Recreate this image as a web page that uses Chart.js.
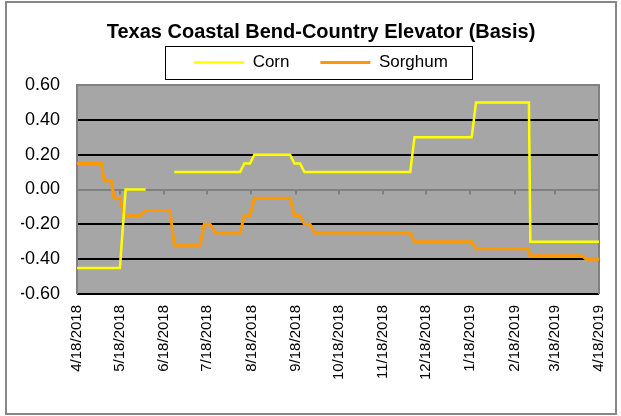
<!DOCTYPE html>
<html>
<head>
<meta charset="utf-8">
<script src="https://cdn.jsdelivr.net/npm/chart.js@4.4.0/dist/chart.umd.min.js"></script>
<style>
  html, body { margin: 0; padding: 0; background: #fff; }
  #wrap { width: 621px; height: 416px; }
</style>
</head>
<body>
<div id="wrap"><canvas id="basis-chart" width="621" height="416"></canvas></div>
<script>
// days counted from 4/18/2018
const tickDays = [0, 30, 61, 91, 122, 153, 183, 214, 244, 275, 306, 334, 365];
const tickLabels = ['4/18/2018', '5/18/2018', '6/18/2018', '7/18/2018', '8/18/2018', '9/18/2018',
  '10/18/2018', '11/18/2018', '12/18/2018', '1/18/2019', '2/18/2019', '3/18/2019', '4/18/2019'];

// corn basis (null = no quote)
const cornDays = [0, 30, 34, 48, 58, 68, 114, 117, 121, 124, 149, 152, 156, 159, 233, 236, 276, 279, 316, 317, 365];
const cornValues = [-0.45, -0.45, 0.00, 0.00, null, 0.10, 0.10, 0.15, 0.15, 0.20, 0.20, 0.15, 0.15, 0.10,
  0.10, 0.30, 0.30, 0.50, 0.50, -0.30, -0.30];

// sorghum basis
const sorghumDays = [0, 17, 19, 24, 26, 30, 33, 44, 48, 65, 68, 86, 89, 93, 97, 114, 117, 121, 124, 149,
  152, 156, 159, 163, 166, 233, 236, 276, 279, 315, 317, 353, 356, 365];
const sorghumValues = [0.15, 0.15, 0.05, 0.05, -0.05, -0.05, -0.15, -0.15, -0.12, -0.12, -0.32, -0.32,
  -0.20, -0.20, -0.25, -0.25, -0.15, -0.15, -0.05, -0.05, -0.15, -0.15, -0.20, -0.20, -0.25, -0.25,
  -0.30, -0.30, -0.34, -0.34, -0.38, -0.38, -0.40, -0.40];

const FONT = "'Liberation Sans', Arial, sans-serif";

function toPoints(days, values) {
  return days.map((d, i) => ({ x: d, y: values[i] }));
}

// small empty box between legend and plot
const legendGap = {
  id: 'legendGap',
  beforeInit(chart) {
    Chart.layouts.addBox(chart, {
      position: 'top',
      weight: 0,
      fullSize: true,
      options: {},
      left: 0, top: 0, right: 0, bottom: 0, width: 0, height: 0,
      isHorizontal() { return true; },
      update(maxWidth) { this.width = maxWidth; this.height = 4; },
      draw() {}
    });
  }
};

// gray plot background, outer frame, zero-line ticks and the legend frame
const decorations = {
  id: 'decorations',
  beforeDraw(chart) {
    const { ctx, chartArea: a } = chart;
    ctx.save();
    ctx.fillStyle = '#a6a6a6';
    ctx.fillRect(a.left, a.top, a.right - a.left, a.bottom - a.top);
    ctx.restore();
  },
  beforeDatasetsDraw(chart) {
    const { ctx, chartArea: a, scales } = chart;
    const y0 = scales.y.getPixelForValue(0);
    ctx.save();
    ctx.strokeStyle = '#808080';
    ctx.lineWidth = 2;
    tickDays.forEach(d => {
      const x = Math.round(scales.x.getPixelForValue(d));
      ctx.beginPath();
      ctx.moveTo(x, y0);
      ctx.lineTo(x, y0 + 5);
      ctx.stroke();
    });
    ctx.beginPath();
    ctx.moveTo(a.left, a.bottom);
    ctx.lineTo(a.left, a.top);
    ctx.lineTo(a.right, a.top);
    ctx.lineTo(a.right, a.bottom);
    ctx.stroke();
    ctx.restore();
  },
  afterDraw(chart) {
    const { ctx } = chart;
    ctx.save();
    ctx.strokeStyle = '#878787';
    ctx.lineWidth = 2;
    ctx.strokeRect(6, 2, 610, 412);
    const items = chart.legend.legendHitBoxes;
    if (items && items.length) {
      const cy = items[0].top + items[0].height / 2;
      ctx.strokeStyle = '#000';
      ctx.lineWidth = 1;
      ctx.strokeRect(165.5, Math.round(cy - 17) + 0.5, 307, 33);
    }
    ctx.restore();
  }
};

new Chart(document.getElementById('basis-chart'), {
  type: 'line',
  data: {
    datasets: [
      {
        label: 'Corn',
        data: toPoints(cornDays, cornValues),
        borderColor: '#ffff00',
        backgroundColor: '#ffff00',
        borderWidth: 2.5,
        pointRadius: 0,
        tension: 0,
        spanGaps: false
      },
      {
        label: 'Sorghum',
        data: toPoints(sorghumDays, sorghumValues),
        borderColor: '#ff9900',
        backgroundColor: '#ff9900',
        borderWidth: 3,
        pointRadius: 0,
        tension: 0
      }
    ]
  },
  options: {
    responsive: false,
    animation: false,
    layout: { padding: { left: 21, right: 0, top: 0, bottom: 0 } },
    plugins: {
      title: {
        display: true,
        text: 'Texas Coastal Bend-Country Elevator (Basis)',
        color: '#000',
        font: { family: FONT, size: 20, weight: 'bold', lineHeight: 1 },
        padding: { top: 22, bottom: 0 }
      },
      legend: {
        display: true,
        labels: {
          color: '#000',
          font: { family: FONT, size: 17 },
          usePointStyle: true,
          pointStyle: 'line',
          pointStyleWidth: 50,
          padding: 12,
          generateLabels(chart) {
            const base = Chart.defaults.plugins.legend.labels.generateLabels(chart);
            base.forEach((it, i) => { if (i === 0) it.text = it.text + '    '; });
            return base;
          }
        }
      },
      tooltip: { enabled: false }
    },
    scales: {
      x: {
        type: 'linear',
        min: 0,
        max: 365,
        afterBuildTicks(scale) {
          scale.ticks = tickDays.map(v => ({ value: v }));
        },
        afterFit(scale) {
          scale.height = 122;
          scale.paddingLeft = 0;
          scale.paddingRight = 22;
        },
        grid: { display: false, drawTicks: false },
        border: { display: false },
        ticks: {
          autoSkip: false,
          minRotation: 90,
          maxRotation: 90,
          padding: 11,
          color: '#000',
          font: { family: FONT, size: 15 },
          callback(value) {
            const i = tickDays.indexOf(value);
            return i >= 0 ? tickLabels[i] : '';
          }
        }
      },
      y: {
        min: -0.6,
        max: 0.6,
        afterFit(scale) { scale.width = 56; },
        grid: {
          drawTicks: false,
          lineWidth: 2,
          color: ctx => Math.abs(ctx.tick.value) < 1e-9 ? '#808080' : '#000'
        },
        border: { display: false },
        ticks: {
          stepSize: 0.2,
          padding: 17,
          color: '#000',
          font: { family: FONT, size: 18 },
          callback: v => (Math.abs(v) < 1e-9 ? 0 : v).toFixed(2)
        }
      }
    }
  },
  plugins: [legendGap, decorations]
});
</script>
</body>
</html>
